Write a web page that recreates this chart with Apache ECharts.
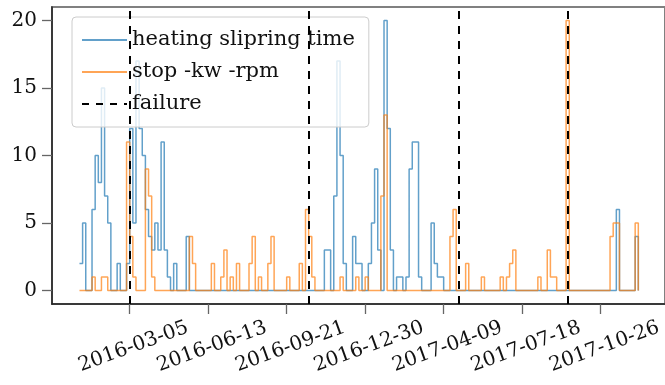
<!DOCTYPE html>
<html>
<head>
<meta charset="utf-8">
<script src="https://cdn.jsdelivr.net/npm/echarts@6/dist/echarts.min.js"></script>
<style>
html,body{margin:0;padding:0;background:#fff;}
#chart{width:665px;height:385px;}
</style>
</head>
<body>
<div id="chart"></div>
<script>
// ---- data ----
const seriesNames = ['heating slipring time', 'stop -kw -rpm', 'failure'];
const binStart = '2016-01-01';   // first 4-day bin
const binDays = 4;
const heating = [
  2,5,0,0,6,10,8,15,7,5,
  0,0,2,0,0,2,12,5,17,12,
  10,6,4,3,5,3,11,3,1,0,
  2,0,0,0,4,0,0,0,0,0,
  0,0,0,0,0,0,0,0,0,0,
  0,0,0,0,0,0,0,0,0,0,
  0,0,0,0,0,0,0,0,0,0,
  0,0,0,0,0,0,0,0,3,3,
  0,7,17,10,2,0,0,4,2,2,
  0,0,2,5,9,3,0,20,12,3,
  0,1,1,0,1,9,11,11,1,0,
  0,0,5,2,1,1,0,0,0,0,
  0,0,0,0,0,0,0,0,0,0,
  0,0,0,0,0,0,0,0,0,0,
  0,0,0,0,0,0,0,0,0,0,
  0,0,0,0,0,0,0,0,0,0,
  0,0,0,0,0,0,0,0,0,0,
  0,6,0,0,0,0,0,4,0
];
const stopKwRpm = [
  0,0,0,0,1,0,0,1,1,0,
  0,0,0,0,0,11,4,1,0,0,
  0,9,7,1,0,0,0,0,0,0,
  0,0,0,0,0,4,2,0,0,0,
  0,0,2,0,0,1,3,0,1,0,
  2,0,0,0,2,4,0,1,0,0,
  2,4,0,0,0,0,1,0,0,0,
  2,0,6,4,1,0,0,0,0,0,
  0,0,0,1,0,0,0,0,1,0,
  0,1,0,0,0,0,7,13,0,0,
  0,0,0,0,0,0,0,0,0,0,
  0,0,0,0,0,0,0,0,4,6,
  0,0,0,2,0,0,0,0,1,0,
  0,0,0,0,1,0,1,2,3,0,
  0,0,0,0,0,0,1,0,0,3,
  1,1,0,0,0,20,0,0,0,0,
  0,0,0,0,0,0,0,0,0,4,
  5,5,0,0,0,0,0,5,0
];
const failureDates = ['2016-03-05', '2016-10-19', '2017-04-28', '2017-09-14'];
const xTickLabels = ['2016-03-05','2016-06-13','2016-09-21','2016-12-30','2017-04-09','2017-07-18','2017-10-26'];
const yTickLabels = [0, 5, 10, 15, 20];
const xMinDate = '2015-11-27';
const xMaxDate = '2018-01-16';

// ---- helpers ----
const DAY = 86400000;
const ts = s => { const p = s.split('-').map(Number); return Date.UTC(p[0], p[1]-1, p[2]); };
const fmt = v => new Date(v).toISOString().slice(0, 10);
const t0 = ts(binStart);
const toPairs = arr => arr.map((v, i) => [t0 + i * binDays * DAY, v]);

const FONT = 'DejaVu Serif';
const chart = echarts.init(document.getElementById('chart'), null, {renderer: 'canvas'});
chart.setOption({
  animation: false,
  backgroundColor: '#fff',
  grid: {left: 52, right: -4, top: 7, bottom: 81, show: true, borderColor: '#808080', borderWidth: 2, backgroundColor: 'transparent'},
  legend: {
    data: seriesNames,
    orient: 'vertical',
    left: 72, top: 17,
    padding: [12, 14, 12, 9],
    itemWidth: 45, itemHeight: 14, itemGap: 10,
    itemStyle: {opacity: 0},
    backgroundColor: 'rgba(255,255,255,0.8)',
    borderColor: '#cccccc', borderWidth: 1, borderRadius: 4,
    textStyle: {fontFamily: FONT, fontSize: 21, lineHeight: 22, color: '#111'}
  },
  xAxis: {
    type: 'value',
    min: ts(xMinDate), max: ts(xMaxDate),
    splitLine: {show: false},
    axisLine: {onZero: false, lineStyle: {color: '#222', width: 1.5}},
    axisTick: {customValues: xTickLabels.map(ts), length: 10, lineStyle: {color: '#666', width: 1.3}},
    axisLabel: {
      customValues: xTickLabels.map(ts),
      formatter: v => fmt(v),
      rotate: 20, align: 'center', verticalAlign: 'middle', margin: 44,
      padding: [0, 0, 0, 8],
      fontFamily: FONT, fontSize: 20, color: '#111'
    }
  },
  yAxis: {
    type: 'value', min: -1, max: 21,
    splitLine: {show: false},
    axisLine: {show: true, onZero: false, lineStyle: {color: '#222', width: 1.5}},
    axisTick: {show: true, customValues: yTickLabels, length: 10, lineStyle: {color: '#666', width: 1.3}},
    axisLabel: {customValues: yTickLabels, margin: 15, fontFamily: FONT, fontSize: 20, color: '#111'}
  },
  series: [
    {
      name: seriesNames[0], type: 'line', step: 'end', symbol: 'none', showSymbol: false,
      data: toPairs(heating),
      itemStyle: {color: '#1f77b4', opacity: 0.7},
      lineStyle: {color: '#1f77b4', width: 1.5, opacity: 0.7}
    },
    {
      name: seriesNames[1], type: 'line', step: 'end', symbol: 'none', showSymbol: false,
      data: toPairs(stopKwRpm),
      itemStyle: {color: '#ff7f0e', opacity: 0.7},
      lineStyle: {color: '#ff7f0e', width: 1.5, opacity: 0.7}
    },
    {
      name: seriesNames[2], type: 'line', symbol: 'none', data: [],
      itemStyle: {color: '#000'},
      lineStyle: {color: '#000', width: 2, type: [7, 7]},
      markLine: {
        silent: true, symbol: ['none', 'none'],
        label: {show: false},
        lineStyle: {color: '#000', width: 2, type: [8, 7]},
        data: failureDates.map(d => ({xAxis: ts(d)}))
      }
    }
  ]
});
</script>
</body>
</html>
